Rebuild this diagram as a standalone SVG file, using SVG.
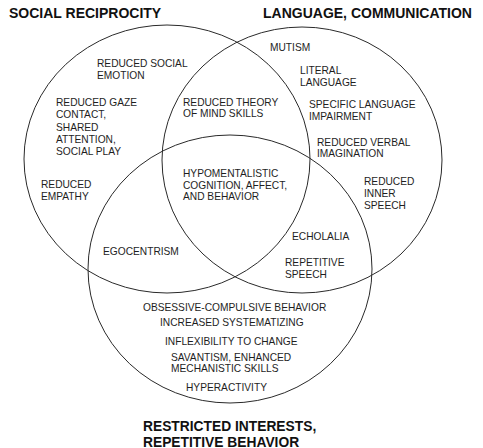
<svg xmlns="http://www.w3.org/2000/svg" width="483" height="448" viewBox="0 0 483 448">
<style>
.c{fill:none;stroke:#2a2a2a;stroke-width:1}
.t{font-family:"Liberation Sans",Arial,sans-serif;font-size:10.2px;fill:#1e1e1e}
.h{font-family:"Liberation Sans",Arial,sans-serif;font-size:14px;font-weight:bold;fill:#111}
.h2{font-size:13.8px}
</style>
<rect width="483" height="448" fill="#fff"/>
<g id="connectors"></g>
<g id="social">
<ellipse class="c" cx="167" cy="159" rx="143" ry="134"/>
<text class="h" x="9" y="18">SOCIAL RECIPROCITY</text>
<text class="t" x="97" y="67">REDUCED SOCIAL</text>
<text class="t" x="97" y="79">EMOTION</text>
<text class="t" x="56" y="106">REDUCED GAZE</text>
<text class="t" x="56" y="118">CONTACT,</text>
<text class="t" x="56" y="131">SHARED</text>
<text class="t" x="56" y="143">ATTENTION,</text>
<text class="t" x="56" y="155">SOCIAL PLAY</text>
<text class="t" x="41" y="188">REDUCED</text>
<text class="t" x="41" y="200">EMPATHY</text>
</g>
<g id="language">
<ellipse class="c" cx="302" cy="160" rx="140" ry="133"/>
<text class="h" x="263" y="18">LANGUAGE, COMMUNICATION</text>
<text class="t" x="270" y="51">MUTISM</text>
<text class="t" x="300" y="74">LITERAL</text>
<text class="t" x="300" y="86">LANGUAGE</text>
<text class="t" x="309" y="108">SPECIFIC LANGUAGE</text>
<text class="t" x="309" y="120">IMPAIRMENT</text>
<text class="t" x="317" y="146">REDUCED VERBAL</text>
<text class="t" x="317" y="157">IMAGINATION</text>
<text class="t" x="364" y="185">REDUCED</text>
<text class="t" x="364" y="197">INNER</text>
<text class="t" x="364" y="209">SPEECH</text>
</g>
<g id="restricted">
<ellipse class="c" cx="230" cy="269" rx="142" ry="134"/>
<text class="h h2" x="143" y="431">RESTRICTED INTERESTS,</text>
<text class="h h2" x="143" y="446.5">REPETITIVE BEHAVIOR</text>
<text class="t" x="143" y="311">OBSESSIVE-COMPULSIVE BEHAVIOR</text>
<text class="t" x="160" y="326">INCREASED SYSTEMATIZING</text>
<text class="t" x="165" y="345">INFLEXIBILITY TO CHANGE</text>
<text class="t" x="171" y="361">SAVANTISM, ENHANCED</text>
<text class="t" x="171" y="372">MECHANISTIC SKILLS</text>
<text class="t" x="186" y="391">HYPERACTIVITY</text>
</g>
<g id="social-language">
<text class="t" x="183" y="106">REDUCED THEORY</text>
<text class="t" x="183" y="117">OF MIND SKILLS</text>
</g>
<g id="social-restricted">
<text class="t" x="103" y="255">EGOCENTRISM</text>
</g>
<g id="language-restricted">
<text class="t" x="292" y="240">ECHOLALIA</text>
<text class="t" x="285" y="266">REPETITIVE</text>
<text class="t" x="285" y="278">SPEECH</text>
</g>
<g id="all-three">
<text class="t" x="183" y="177">HYPOMENTALISTIC</text>
<text class="t" x="183" y="189">COGNITION, AFFECT,</text>
<text class="t" x="183" y="200">AND BEHAVIOR</text>
</g>
</svg>
